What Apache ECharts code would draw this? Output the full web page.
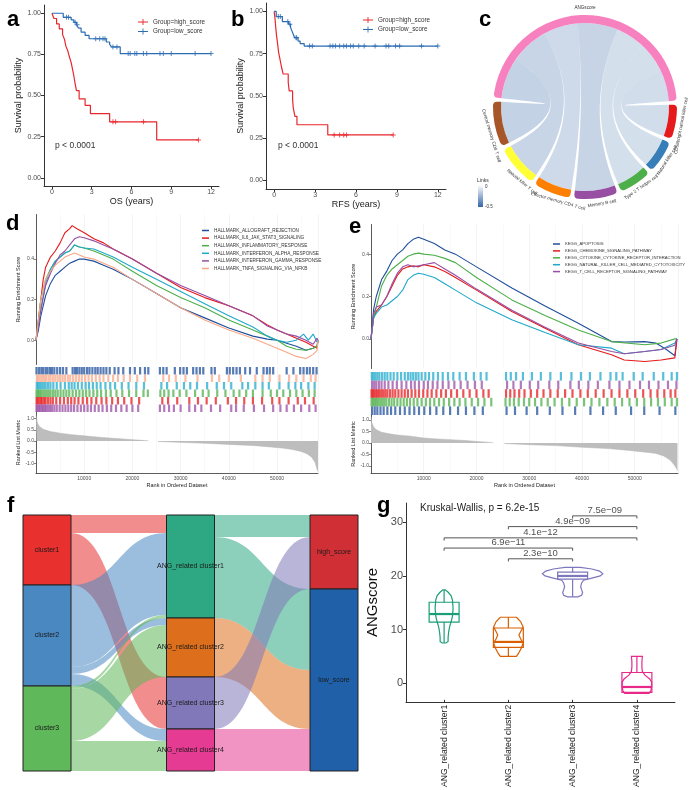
<!DOCTYPE html>
<html>
<head>
<meta charset="utf-8">
<script src="https://cdn.jsdelivr.net/npm/echarts@6.0.0/dist/echarts.min.js"></script>
<style>
html,body{margin:0;padding:0;background:#fff;}
#main{position:absolute;left:0;top:0;width:691px;height:790px;}
#chord{position:absolute;left:460px;top:0;width:231px;height:215px;}
</style>
</head>
<body>
<div id="main"></div>
<div id="chord"></div>
<script>
var font = 'Liberation Sans, Arial, sans-serif';
var red = '#e8262d', blue = '#2b6cb3';

// ---- a / b : Kaplan-Meier (years, survival) ----
var osHigh = [[0,1],[0.15,0.968],[0.35,0.935],[0.55,0.905],[0.8,0.87],[0.95,0.84],[1.05,0.8],[1.2,0.77],[1.3,0.74],[1.45,0.7],[1.55,0.66],[1.65,0.62],[1.75,0.57],[1.85,0.53],[2.05,0.48],[2.5,0.44],[2.9,0.39],[4.35,0.34],[7.9,0.23],[11.05,0.23]];
var osHighCensor = [[4.6,0.34],[4.8,0.34],[6.9,0.34],[11.05,0.23]];
var osLow = [[0,1],[0.85,0.975],[1.45,0.96],[1.65,0.945],[1.85,0.93],[2.0,0.91],[2.2,0.885],[2.5,0.865],[2.8,0.845],[4.1,0.825],[4.35,0.81],[4.5,0.795],[5.15,0.755],[12,0.755]];
var osLowCensor = [[1.1,0.975],[1.25,0.975],[1.75,0.945],[1.9,0.93],[3.3,0.845],[3.6,0.845],[3.85,0.845],[4.0,0.845],[4.6,0.795],[4.9,0.795],[5.75,0.755],[5.9,0.755],[6.25,0.755],[6.4,0.755],[6.9,0.755],[7.15,0.755],[8.15,0.755],[8.4,0.755],[9.0,0.755],[10.8,0.755],[12,0.755]];
var rfsHigh = [[0,1],[0.07,0.95],[0.12,0.9],[0.17,0.86],[0.25,0.81],[0.32,0.76],[0.42,0.72],[0.54,0.67],[0.66,0.63],[1.03,0.58],[1.1,0.53],[1.35,0.48],[1.4,0.43],[1.52,0.38],[1.67,0.33],[3.93,0.27],[8.73,0.27]];
var rfsHighCensor = [[4.4,0.27],[4.8,0.27],[5.1,0.27],[5.3,0.27],[8.73,0.27]];
var rfsLow = [[0,1],[0.15,0.97],[0.6,0.94],[1.05,0.925],[1.2,0.905],[1.3,0.885],[1.4,0.865],[1.5,0.845],[1.75,0.825],[1.9,0.81],[2.2,0.795],[12,0.795]];
var rfsLowCensor = [[0.3,0.97],[0.45,0.97],[1.0,0.94],[1.15,0.925],[1.6,0.845],[1.65,0.845],[2.6,0.795],[2.8,0.795],[4.1,0.795],[4.3,0.795],[4.5,0.795],[4.8,0.795],[5.1,0.795],[5.3,0.795],[5.6,0.795],[5.8,0.795],[6.2,0.795],[6.6,0.795],[7.4,0.795],[8.2,0.795],[8.4,0.795],[8.9,0.795],[9.2,0.795],[10.8,0.795],[12,0.795]];
var kmXTicks = [0,3,6,9,12];
var kmYTicks = [0,0.25,0.5,0.75,1];

// ---- d : GSEA hallmark (rank, running ES) ----
var dNames = ['HALLMARK_ALLOGRAFT_REJECTION','HALLMARK_IL6_JAK_STAT3_SIGNALING','HALLMARK_INFLAMMATORY_RESPONSE','HALLMARK_INTERFERON_ALPHA_RESPONSE','HALLMARK_INTERFERON_GAMMA_RESPONSE','HALLMARK_TNFA_SIGNALING_VIA_NFKB'];
var dColors = ['#1f4f9b','#e41a1c','#4daf4a','#1fa9c9','#984ea3','#f8a787'];
var dAllograft = [[0,0],[500,0.05],[1000,0.12],[2000,0.22],[3000,0.28],[4000,0.32],[5000,0.34],[6000,0.36],[7000,0.38],[8000,0.39],[9000,0.4],[10000,0.4],[12000,0.39],[14000,0.37],[16000,0.35],[20000,0.3],[25000,0.23],[30000,0.16],[35000,0.11],[40000,0.06],[45000,0.02],[48000,0.005],[50000,0],[52000,-0.015],[54000,-0.03],[56000,-0.05],[57500,-0.04],[58300,-0.03],[58500,0]];
var dIL6 = [[0,0],[500,0.1],[1000,0.2],[1500,0.3],[2000,0.36],[3000,0.41],[4000,0.44],[5000,0.48],[6000,0.53],[7000,0.55],[7500,0.565],[8500,0.55],[10000,0.53],[12000,0.5],[14000,0.48],[16000,0.45],[20000,0.4],[25000,0.33],[30000,0.26],[35000,0.21],[40000,0.17],[45000,0.12],[48000,0.075],[50000,0.05],[52000,0.03],[54000,0.01],[56000,-0.01],[57500,-0.03],[58300,-0.04],[58500,0]];
var dInflam = [[0,0],[500,0.1],[1000,0.2],[2000,0.3],[3000,0.35],[4000,0.39],[5000,0.41],[6000,0.43],[7000,0.44],[8000,0.47],[9000,0.46],[10000,0.455],[12000,0.44],[14000,0.42],[16000,0.4],[20000,0.34],[25000,0.27],[30000,0.21],[35000,0.16],[40000,0.1],[45000,0.05],[48000,0.02],[50000,0],[52000,-0.03],[54000,-0.045],[56000,-0.05],[57500,-0.04],[58300,-0.03],[58500,0]];
var dAlpha = [[0,0],[500,0.08],[1000,0.15],[2000,0.28],[3000,0.35],[4000,0.39],[5000,0.41],[6000,0.43],[7000,0.44],[8000,0.47],[9000,0.46],[10000,0.455],[12000,0.45],[14000,0.43],[16000,0.41],[20000,0.36],[25000,0.3],[30000,0.24],[35000,0.18],[40000,0.12],[45000,0.065],[48000,0.02],[50000,0],[52000,-0.01],[54000,0],[55500,0.03],[56500,0],[57500,0.03],[58300,-0.01],[58500,0]];
var dGamma = [[0,0],[500,0.07],[1000,0.15],[2000,0.27],[3000,0.33],[4000,0.38],[5000,0.42],[6000,0.44],[7000,0.47],[8000,0.5],[9000,0.51],[10000,0.505],[12000,0.49],[14000,0.47],[16000,0.45],[20000,0.4],[25000,0.33],[30000,0.27],[35000,0.22],[40000,0.17],[45000,0.12],[48000,0.07],[50000,0.05],[52000,0.03],[54000,0.02],[56000,0],[57500,-0.02],[58300,0.01],[58500,0]];
var dTnfa = [[0,0],[500,0.1],[1000,0.2],[2000,0.3],[3000,0.34],[4000,0.37],[5000,0.39],[6000,0.41],[7000,0.42],[8000,0.43],[9000,0.42],[10000,0.41],[12000,0.4],[14000,0.38],[16000,0.36],[20000,0.3],[25000,0.23],[30000,0.16],[35000,0.1],[40000,0.05],[45000,0.01],[48000,-0.02],[50000,-0.04],[52000,-0.06],[54000,-0.08],[56000,-0.09],[57500,-0.07],[58300,-0.05],[58500,0]];
var dCurves = [dAllograft, dIL6, dInflam, dAlpha, dGamma, dTnfa];

// hit positions, rows top to bottom: allograft, tnfa, alpha, inflammatory, il6, gamma
var dRugOrder = [0, 5, 3, 2, 1, 4];
var dRugAllograft = [100,600,1100,1500,2000,2400,2900,3300,3800,4400,5000,5600,6300,7600,8100,8500,9000,9500,10000,10600,11100,11700,12300,12800,13400,14000,14600,15300,16300,17100,18100,19500,20500,21600,22600,23300,25700,26400,27100,28800,29900,30600,31300,32600,33300,34000,34700,36400,37100,39600,40200,40900,41600,42300,43400,44400,45800,47200,47900,48500,49200,52000,53400,54800,55500,56200,56800,57500,58200];
var dRugTnfa = [200,500,900,1300,1700,2100,2600,3000,3500,4000,4500,5000,5500,6000,6600,7100,7700,8300,8900,9500,10200,10900,11600,12400,13200,14000,15000,16000,17000,18200,19500,21000,22600,26400,27600,29000,31000,33500,36500,38000,40000,42500,45500,47000,48500,50500,52500,54000,55500,57000,58000];
var dRugAlpha = [150,450,800,1200,1600,2000,2500,3000,3600,4300,5100,6000,6800,7400,8000,8700,9500,10300,11000,11800,12600,13400,14400,15400,16400,17800,19200,20800,22400,26000,27200,29200,30700,32000,33400,35500,37500,39000,40500,42800,44000,45500,47000,48300,50500,52400,53800,55000,56500,57800];
var dRugInflam = [100,400,700,1000,1400,1800,2200,2600,3000,3500,4000,4500,5100,5700,6300,6900,7600,8300,9000,9700,10400,11100,11900,12700,13500,14500,15500,16700,17900,19300,20800,22300,23200,25800,26600,27500,28500,29800,31200,33000,34600,35800,37600,39300,41000,42200,43600,45000,47000,48700,50000,51300,52700,54000,55300,56600,57800];
var dRugIL6 = [120,350,700,1000,1300,1700,2000,2500,3000,3500,4200,5000,5800,6600,7300,8000,8800,9700,10600,11500,12500,13600,14600,15800,17000,18300,19800,21400,26200,27400,29300,31800,33600,35400,37300,39800,41500,43200,45000,46900,49000,50500,52400,54300,55800,57600];
var dRugGamma = [100,300,600,900,1200,1500,1800,2100,2500,2900,3300,3800,4300,4900,5500,6100,6700,7300,7900,8600,9300,10000,10700,11400,12200,13000,13800,14700,15600,16600,17700,18800,20000,21200,25700,26600,27600,28600,30000,31800,33000,34300,36300,38200,40500,41500,43100,45200,47300,49200,50700,52000,53500,55000,56700,58000];
var dRugs = [dRugAllograft, dRugTnfa, dRugAlpha, dRugInflam, dRugIL6, dRugGamma];
var dRank = [[0,1.15],[100,1.0],[300,0.8],[700,0.65],[1500,0.52],[3000,0.42],[5000,0.35],[7500,0.28],[10000,0.23],[12500,0.18],[15000,0.14],[17500,0.1],[20000,0.06],[22000,0.03],[23300,0.01],[24200,'-'],[25300,-0.02],[28000,-0.04],[31000,-0.07],[34000,-0.09],[38000,-0.13],[41000,-0.16],[45000,-0.2],[48000,-0.25],[51000,-0.31],[53000,-0.37],[55000,-0.46],[56200,-0.56],[57200,-0.72],[57900,-0.95],[58300,-1.25],[58500,-1.35]];

// ---- e : GSEA KEGG ----
var eNames = ['KEGG_APOPTOSIS','KEGG_CHEMOKINE_SIGNALING_PATHWAY','KEGG_CYTOKINE_CYTOKINE_RECEPTOR_INTERACTION','KEGG_NATURAL_KILLER_CELL_MEDIATED_CYTOTOXICITY','KEGG_T_CELL_RECEPTOR_SIGNALING_PATHWAY'];
var eColors = ['#1f4f9b','#e41a1c','#4daf4a','#1fa9c9','#984ea3'];
var eApoptosis = [[0,0],[500,0.14],[1000,0.2],[2000,0.28],[3000,0.32],[4000,0.37],[5000,0.4],[6000,0.42],[7000,0.45],[8000,0.47],[9000,0.48],[10000,0.47],[12000,0.45],[14000,0.42],[16000,0.4],[20000,0.34],[26700,0.24],[33000,0.155],[39300,0.074],[45600,-0.013],[48000,-0.015],[51900,-0.013],[54000,-0.02],[56000,-0.05],[57600,-0.08],[58000,0]];
var eChemokine = [[0,0],[500,0.1],[1000,0.13],[2000,0.16],[3000,0.2],[4000,0.25],[5000,0.3],[6000,0.33],[7000,0.34],[8000,0.345],[9000,0.34],[10000,0.35],[12000,0.34],[14000,0.318],[16000,0.29],[20000,0.23],[26700,0.129],[33000,0.05],[39300,-0.028],[45600,-0.075],[48000,-0.1],[51900,-0.107],[55000,-0.1],[57600,-0.09],[58000,0]];
var eCytokine = [[0,0],[500,0.1],[1000,0.15],[2000,0.25],[3000,0.3],[4000,0.33],[5000,0.35],[6000,0.37],[7000,0.39],[8000,0.4],[9000,0.405],[10000,0.4],[12000,0.395],[14000,0.38],[16000,0.36],[20000,0.29],[26700,0.184],[33000,0.11],[39300,0.042],[45600,-0.013],[51900,-0.028],[55000,-0.02],[57600,0],[58000,0]];
var eNK = [[0,0],[500,0.1],[1000,0.12],[2000,0.15],[3000,0.16],[4000,0.18],[5000,0.2],[6000,0.23],[7000,0.28],[8000,0.3],[9000,0.31],[10000,0.305],[12000,0.29],[14000,0.26],[16000,0.23],[20000,0.17],[26700,0.09],[33000,0.03],[39300,-0.028],[45600,-0.044],[48000,-0.07],[51900,-0.06],[55000,-0.05],[57600,-0.02],[58000,0]];
var eTCR = [[0,0],[500,0.12],[1000,0.15],[2000,0.16],[3000,0.2],[4000,0.26],[5000,0.31],[6000,0.34],[7000,0.35],[8000,0.34],[9000,0.345],[10000,0.35],[12000,0.36],[14000,0.33],[16000,0.3],[20000,0.235],[26700,0.135],[33000,0.055],[39300,-0.02],[45600,-0.06],[48000,-0.07],[51900,-0.06],[55000,-0.05],[57600,-0.03],[58000,0]];
var eCurves = [eApoptosis, eChemokine, eCytokine, eNK, eTCR];

// rows top to bottom: nk, tcr, chemokine, cytokine, apoptosis
var eRugOrder = [3, 4, 1, 2, 0];
var eRugNK = [150,450,800,1200,1600,2100,2600,3100,3700,4300,5000,5700,6400,7000,7500,8000,8500,9000,9600,10300,11000,11800,12700,13600,14600,15600,16800,18000,19500,20800,21900,25600,26500,27500,28800,30500,32200,34000,36000,38000,39800,41500,43500,45400,46500,47700,49800,51500,53600,55400,57000,58000];
var eRugTCR = [200,600,1000,1500,2000,2600,3300,4100,4900,5800,6700,7600,8300,9100,10000,10800,11700,12600,13600,14700,15800,17000,18300,19700,21000,25800,27000,28400,30100,31700,33800,35500,37800,39400,41200,43000,45200,47100,49000,51000,52700,54500,56300,57900];
var eRugChemokine = [100,300,600,900,1200,1500,1900,2300,2700,3100,3600,4100,4600,5200,5800,6400,7000,7700,8400,9100,9900,10700,11500,12400,13300,14200,15200,16300,17500,18700,20000,21300,22300,25600,26400,27200,28100,29100,30300,31500,32700,34000,35400,36800,38200,39700,41100,42600,44100,45600,47100,48600,50100,51600,53000,54300,55600,56800,57700];
var eRugCytokine = [100,400,700,1000,1300,1700,2100,2500,2900,3400,3900,4400,5000,5600,6200,6800,7400,8100,8800,9600,10400,11200,12000,12900,13800,14800,15800,16800,17900,19100,20300,21500,22800,25500,26300,27100,28000,29000,30000,31100,32300,33500,34800,36200,37600,39000,40400,41800,43300,44800,46200,47600,49000,50400,51800,53100,54400,55700,57000,58000];
var eRugApoptosis = [200,700,1200,1800,2400,3100,3800,4600,5500,6400,7300,8200,9100,10100,11200,12400,13700,15000,16500,18000,19600,21200,25700,27300,29500,31500,33900,36300,38700,41600,44000,46400,49300,51800,54700,57700];
var eRugs = [eRugNK, eRugTCR, eRugChemokine, eRugCytokine, eRugApoptosis];
var eRank = [[0,1.15],[150,0.9],[500,0.7],[1000,0.58],[2000,0.47],[3500,0.4],[5000,0.35],[7500,0.3],[10000,0.22],[12500,0.18],[15000,0.15],[18000,0.11],[20000,0.07],[22500,0.03],[23200,0.01],[24200,'-'],[25300,-0.02],[30000,-0.07],[35000,-0.11],[40000,-0.18],[45000,-0.24],[49000,-0.32],[53000,-0.42],[54000,-0.45],[55500,-0.56],[56700,-0.74],[57500,-0.95],[57900,-1.1],[58100,-1.2]];
var rankTicks = [10000,20000,30000,40000,50000];

// ---- f : sankey ----
var sankeyNodes = ['cluster1','cluster2','cluster3','ANG_related cluster1','ANG_related cluster2','ANG_related cluster3','ANG_related cluster4','high_score','low_score'];
var sankeyColors = ['#e8302f','#4a88c2','#5fb85a','#2ea882','#dd6f1c','#8078b8','#e53b92','#d02f36','#1f60a8'];
var sankeyFlows = [
    ['cluster1','ANG_related cluster1',18],
    ['cluster1','ANG_related cluster3',52],
    ['cluster2','ANG_related cluster1',82],
    ['cluster2','ANG_related cluster2',7],
    ['cluster2','ANG_related cluster4',12],
    ['cluster3','ANG_related cluster1',3],
    ['cluster3','ANG_related cluster2',52],
    ['cluster3','ANG_related cluster4',30],
    ['ANG_related cluster1','high_score',22],
    ['ANG_related cluster1','low_score',81],
    ['ANG_related cluster2','low_score',59],
    ['ANG_related cluster3','high_score',52],
    ['ANG_related cluster4','low_score',42]
];

// ---- g : ANGscore by cluster ----
var gGroups = ['ANG_related cluster1','ANG_related cluster2','ANG_related cluster3','ANG_related cluster4'];
var gColors = ['#1b9e77','#d95f02','#7d77bd','#e7298a'];
// [min, Q1, median, Q3, max]
var gBox = [[7.5,11.4,12.9,15.1,17.4],[5.0,6.7,7.7,10.3,12.3],[16.1,19.4,20.0,20.7,21.6],[-1.9,-1.7,-0.7,2.0,5.0]];
// violin outline: [ANGscore, half width in category units]
var gViolin = [
    [[17.4,0.02],[17,0.06],[16.3,0.11],[15.5,0.13],[14,0.14],[12.5,0.13],[11.5,0.11],[10.5,0.085],[9.5,0.07],[8.5,0.062],[7.8,0.062],[7.5,0.03]],
    [[12.3,0.125],[11.5,0.19],[10.5,0.23],[9.6,0.19],[9,0.165],[8.3,0.19],[7.5,0.23],[6.5,0.2],[5.5,0.155],[5,0.125]],
    [[21.6,0.12],[21.3,0.3],[20.9,0.42],[20.4,0.47],[20.0,0.43],[19.6,0.3],[19.2,0.17],[18.7,0.14],[18.0,0.125],[17.4,0.14],[16.9,0.155],[16.4,0.14],[16.1,0.08]],
    [[5.0,0.085],[4.0,0.078],[3.0,0.078],[2.2,0.085],[1.5,0.125],[0.8,0.2],[0.2,0.23],[-0.6,0.23],[-1.3,0.22],[-1.9,0.19]]
];
// [from group, to group, bracket height, label]
var gPairs = [[2,3,31.2,'7.5e\u221209'],[1,3,29.2,'4.9e\u221209'],[0,3,27.1,'4.1e\u221212'],[0,2,25.2,'6.9e\u221211'],[1,2,23.2,'2.3e\u221210']];
var gYTicks = [0,10,20,30];

// ---- c : chord ----
var chordNodes = ['ANGscore','CD56bright natural killer cell','Natural killer cell','Type 2 T helper cell','Memory B cell','Effector memory CD4 T cell','Natural killer T cell','Central memory CD4 T cell'];
var chordColors = ['#f781bf','#e41a1c','#377eb8','#4daf4a','#984ea3','#ff7f00','#ffff33','#a65628'];
var chordCorr = [-0.22,-0.21,-0.21,-0.28,-0.24,-0.27,-0.29];
// label placement around the ring: mid angle (deg) and text turn (deg)
var chordLabelAngle = [90, -11, -33, -55, -80, -106, -130, -163];
var chordLabelRotate = [0, 79, 57, 35, 10, -16, -40, -73];


// axis helpers
function kmXAxis(grid, name) {
    return {type:'value', gridIndex:grid, min:-0.6, max:12.6, name:name, nameLocation:'middle', nameGap:11,
        nameTextStyle:{fontSize:9, color:'#222', fontFamily:font},
        axisLine:{onZero:false, lineStyle:{color:'#333', width:1}},
        axisTick:{customValues:kmXTicks, length:3, lineStyle:{color:'#333'}},
        axisLabel:{customValues:kmXTicks, fontSize:7, color:'#4d4d4d', margin:3},
        splitLine:{show:false}};
}
function kmYAxis(grid, gap) {
    return {type:'value', gridIndex:grid, min:-0.05, max:1.05, name:'Survival probability', nameLocation:'middle', nameGap:gap,
        nameTextStyle:{fontSize:9, color:'#222', fontFamily:font},
        axisLine:{show:true, onZero:false, lineStyle:{color:'#333', width:1}},
        axisTick:{show:true, customValues:kmYTicks, length:3, lineStyle:{color:'#333'}},
        axisLabel:{customValues:kmYTicks, fontSize:7, color:'#4d4d4d', margin:3, formatter:function (v) { return v.toFixed(2); }},
        splitLine:{show:false}};
}
function gseaX(grid, max, showLabels) {
    return {type:'value', gridIndex:grid, min:0, max:max, interval:10000,
        name: showLabels ? 'Rank in Ordered Dataset' : '', nameLocation:'middle', nameGap:9,
        nameTextStyle:{fontSize:5.5, color:'#222'},
        axisLine:{show:showLabels, onZero:false, lineStyle:{color:'#333', width:0.8}},
        axisTick:{show:false},
        axisLabel:{show:showLabels, customValues:rankTicks, fontSize:5, color:'#4d4d4d', margin:3, formatter:function (v) { return String(v); }},
        splitLine:{show:true, lineStyle:{color:'#ebebeb', width:0.6}},
        minorTick:{show:false, splitNumber:2},
        minorSplitLine:{show:true, lineStyle:{color:'#f3f3f3', width:0.5}}};
}
function gseaY(grid, min, max, ticks, name, show) {
    return {type:'value', gridIndex:grid, min:min, max:max, show:show,
        name:name, nameLocation:'middle', nameGap:15, nameTextStyle:{fontSize:5.5, color:'#222'},
        axisLine:{show:true, onZero:false, lineStyle:{color:'#333', width:0.8}},
        axisTick:{show:true, customValues:ticks, length:2, lineStyle:{color:'#333', width:0.6}},
        axisLabel:{customValues:ticks, fontSize:5, color:'#4d4d4d', margin:2, formatter:function (v) { return v.toFixed(1); }},
        splitLine:{show:false}};
}

var plusSymbol = 'path://M4,0H6V4H10V6H6V10H4V6H0V4H4Z';
var kmIcon = 'path://M0,4L16,4L16,5.4L0,5.4Z M7.3,0L8.7,0L8.7,9.4L7.3,9.4Z';

var series = [];
function kmSeries(axis, high, highC, low, lowC) {
    [[high, highC, red, 'Group=high_score'], [low, lowC, blue, 'Group=low_score']].forEach(function (s) {
        series.push({name:s[3], type:'line', step:'end', data:s[0], symbol:'none', xAxisIndex:axis, yAxisIndex:axis,
            itemStyle:{color:s[2]}, lineStyle:{color:s[2], width:1.2}, silent:true});
        series.push({name:s[3], type:'scatter', data:s[1], symbol:plusSymbol, symbolSize:5, xAxisIndex:axis, yAxisIndex:axis,
            itemStyle:{color:s[2]}, silent:true});
    });
}
kmSeries(0, osHigh, osHighCensor, osLow, osLowCensor);
kmSeries(1, rfsHigh, rfsHighCensor, rfsLow, rfsLowCensor);

function gseaSeries(base, names, colors, curves, rugs, rugOrder, rank, rowH) {
    curves.forEach(function (c, i) {
        series.push({name:names[i], type:'line', data:c, symbol:'none', xAxisIndex:base, yAxisIndex:base,
            itemStyle:{color:colors[i]}, lineStyle:{color:colors[i], width:1.1}, silent:true});
    });
    var n = rugs.length;
    rugs.forEach(function (r, row) {
        var ci = rugOrder[row];
        series.push({name:'rug' + base + '_' + row, type:'scatter', xAxisIndex:base + 1, yAxisIndex:base + 1,
            data:r.map(function (p) { return [p, n - row - 0.5]; }),
            symbol:'rect', symbolSize:[2.2, rowH], itemStyle:{color:colors[ci], opacity:0.75}, silent:true});
    });
    series.push({name:'rank' + base, type:'line', data:rank, symbol:'none', xAxisIndex:base + 2, yAxisIndex:base + 2,
        lineStyle:{color:'#b5b5b5', width:0.5}, itemStyle:{color:'#bdbdbd'}, areaStyle:{color:'#bdbdbd', opacity:1}, silent:true});
}
gseaSeries(2, dNames, dColors, dCurves, dRugs, dRugOrder, dRank, 7.5);
gseaSeries(5, eNames, eColors, eCurves, eRugs, eRugOrder, eRank, 8.6);

// sankey
series.push({
    type:'sankey', left:23, top:515, width:335, height:256, nodeWidth:48, nodeGap:0, layoutIterations:0, draggable:false,
    data:sankeyNodes.map(function (n, i) { return {name:n, itemStyle:{color:sankeyColors[i]}}; }),
    links:sankeyFlows.map(function (f) { return {source:f[0], target:f[1], value:f[2]}; }),
    label:{position:'inside', fontSize:7, color:'#1a1a1a', fontFamily:font},
    itemStyle:{borderColor:'#222', borderWidth:1},
    lineStyle:{color:'source', opacity:0.55, curveness:0.5},
    emphasis:{disabled:true}
});

// g : violins with box plots (no whisker caps), brackets
series.push({type:'custom', xAxisIndex:9, yAxisIndex:9, silent:true, clip:false,
    data:gGroups.map(function (g, i) { return [i, gBox[i][2]]; }),
    renderItem:function (params, api) {
        var i = params.dataIndex, prof = gViolin[i], b = gBox[i], c = gColors[i], pts = [];
        prof.forEach(function (p) { pts.push(api.coord([i + p[1], p[0]])); });
        prof.slice().reverse().forEach(function (p) { pts.push(api.coord([i - p[1], p[0]])); });
        var hw = 0.233;
        var tl = api.coord([i - hw, b[3]]), br = api.coord([i + hw, b[1]]);
        var mL = api.coord([i - hw, b[2]]), mR = api.coord([i + hw, b[2]]);
        var top = api.coord([i, b[4]]), q3 = api.coord([i, b[3]]), q1 = api.coord([i, b[1]]), bot = api.coord([i, b[0]]);
        var st = {fill:'none', stroke:c, lineWidth:1.2};
        return {type:'group', children:[
            {type:'polygon', shape:{points:pts}, style:st},
            {type:'rect', shape:{x:tl[0], y:tl[1], width:br[0] - tl[0], height:br[1] - tl[1]}, style:st},
            {type:'line', shape:{x1:mL[0], y1:mL[1], x2:mR[0], y2:mR[1]}, style:{stroke:c, lineWidth:2.2}},
            {type:'line', shape:{x1:top[0], y1:top[1], x2:q3[0], y2:q3[1]}, style:st},
            {type:'line', shape:{x1:q1[0], y1:q1[1], x2:bot[0], y2:bot[1]}, style:st}
        ]};
    }});
gPairs.forEach(function (p) {
    series.push({type:'line', xAxisIndex:9, yAxisIndex:9, symbol:'none', silent:true,
        data:[[p[0], p[2] - 0.5], [p[0], p[2]], [p[1], p[2]], [p[1], p[2] - 0.5]],
        lineStyle:{color:'#555', width:1}});
    series.push({type:'scatter', xAxisIndex:9, yAxisIndex:9, symbolSize:1, silent:true,
        itemStyle:{color:'rgba(0,0,0,0)'},
        data:[{name:p[3], value:[(p[0] + p[1]) / 2, p[2]]}],
        label:{show:true, position:'top', distance:0, formatter:'{b}', fontSize:9.5, color:'#222', fontFamily:font}});
});

function letter(t, x, y) {
    return {text:t, left:x, top:y, textStyle:{fontSize:22, fontWeight:'bold', color:'#000', fontFamily:font}};
}

var option = {
    animation:false,
    textStyle:{fontFamily:font},
    title:[letter('a',2,4), letter('b',226,4), letter('c',474,4), letter('d',1,208), letter('e',344,211), letter('f',2,490), letter('g',372,490)],
    legend:[
        {data:['Group=high_score','Group=low_score'], orient:'vertical', left:138, top:19, padding:0, icon:kmIcon, itemWidth:10, itemHeight:6, itemGap:3.5, textStyle:{fontSize:6.3, color:'#333'}, selectedMode:false},
        {data:['Group=high_score','Group=low_score'], orient:'vertical', left:363, top:17, padding:0, icon:kmIcon, itemWidth:10, itemHeight:6, itemGap:3.5, textStyle:{fontSize:6.3, color:'#333'}, selectedMode:false},
        {data:dNames, orient:'vertical', left:202, top:228, padding:0, icon:'rect', itemWidth:7, itemHeight:1.5, itemGap:2.6, textStyle:{fontSize:4.7, color:'#333'}, selectedMode:false},
        {data:eNames, orient:'vertical', left:553, top:242, padding:0, icon:'rect', itemWidth:7, itemHeight:1.5, itemGap:2.9, textStyle:{fontSize:4.2, color:'#333'}, selectedMode:false}
    ],
    grid:[
        {left:44, top:5, width:175, height:181},
        {left:266, top:3, width:180, height:186},
        {left:36, top:214.5, width:282, height:150},
        {left:36, top:367, width:282, height:45},
        {left:36, top:412, width:282, height:61},
        {left:371, top:224.5, width:307, height:144},
        {left:371, top:372, width:307, height:43},
        {left:371, top:415, width:307, height:58},
        {left:412, top:503, width:257, height:199},
        {left:406, top:503, width:269, height:199}
    ],
    xAxis:[
        kmXAxis(0, 'OS (years)'),
        kmXAxis(1, 'RFS (years)'),
        gseaX(2, 58500, false), gseaX(3, 58500, false), gseaX(4, 58500, true),
        gseaX(5, 58200, false), gseaX(6, 58200, false), gseaX(7, 58200, true),
        {type:'category', gridIndex:8, data:gGroups,
            axisLine:{show:false, onZero:false}, axisTick:{show:true, alignWithLabel:true, length:3, lineStyle:{color:'#333'}},
            axisLabel:{rotate:90, fontSize:8.6, color:'#1a1a1a', margin:5}},
        {type:'value', gridIndex:9, min:-0.593, max:3.593, axisLine:{show:true, onZero:false, lineStyle:{color:'#333'}},
            axisTick:{show:false}, axisLabel:{show:false}, splitLine:{show:false}}
    ],
    yAxis:[
        kmYAxis(0, 21),
        kmYAxis(1, 20),
        gseaY(2, -0.12, 0.62, [0,0.2,0.4], 'Running Enrichment Score', true),
        gseaY(3, 0, 6, [], '', false),
        gseaY(4, -1.42, 1.29, [-1,-0.5,0,0.5,1], 'Ranked List Metric', true),
        gseaY(5, -0.14, 0.54, [0,0.2,0.4], 'Running Enrichment Score', true),
        gseaY(6, 0, 5, [], '', false),
        gseaY(7, -1.30, 1.22, [-1,-0.5,0,0.5,1], 'Ranked List Metric', true),
        {type:'value', gridIndex:8, min:-3.5, max:33.6, show:false, splitLine:{show:false}},
        {type:'value', gridIndex:9, min:-3.5, max:33.6, name:'ANGscore', nameLocation:'middle', nameGap:26,
            nameTextStyle:{fontSize:15, color:'#111'},
            axisLine:{show:true, onZero:false, lineStyle:{color:'#333'}},
            axisTick:{show:true, customValues:gYTicks, length:3, lineStyle:{color:'#333'}},
            axisLabel:{customValues:gYTicks, fontSize:11, color:'#4d4d4d', margin:3},
            splitLine:{show:false}}
    ],
    graphic:[
        {type:'text', left:55, top:141, style:{text:'p < 0.0001', fontSize:8.5, fill:'#333', fontFamily:font}},
        {type:'text', left:278, top:141, style:{text:'p < 0.0001', fontSize:8.5, fill:'#333', fontFamily:font}},
        {type:'text', left:420, top:503, style:{text:'Kruskal-Wallis, p = 6.2e-15', fontSize:10, fill:'#222', fontFamily:font}}
    ],
    series:series
};

var myChart = echarts.init(document.getElementById('main'));
myChart.setOption(option);

// c : chord diagram in its own instance
function linkColor(r) {
    return echarts.color.lerp(Math.min(1, -r / 0.5), ['#ffffff', '#3566a8']);
}
// links listed from the left-most cell type so ribbons do not cross
var chordLinks = chordNodes.slice(1).map(function (n) {
    return {source:'ANGscore', target:n, value:Math.abs(chordCorr[chordNodes.indexOf(n) - 1])};
}).reverse();
var chordBase = {
    type:'chord', center:[125, 107], radius:[84, 92], startAngle:174, clockwise:true, padAngle:2.5, silent:true, links:chordLinks
};
// sector names written along the ring
var chordLabels = chordNodes.map(function (n, i) {
    var a = chordLabelAngle[i] * Math.PI / 180, r = i === 0 ? 99 : 98;
    return {type:'text', x:125 + r * Math.cos(a), y:107 - r * Math.sin(a), rotation:chordLabelRotate[i] * Math.PI / 180,
        style:{text:n, fontSize:4.6, fill:'#333', align:'center', verticalAlign:'middle', fontFamily:font}};
});
try {
    var chordChart = echarts.init(document.getElementById('chord'));
    chordChart.setOption({
        animation:false,
        textStyle:{fontFamily:font},
        graphic:[
            {type:'text', left:17, top:178, style:{text:'Links', fontSize:5, fill:'#333'}},
            {type:'rect', left:18, top:185, shape:{width:5, height:22},
                style:{fill:new echarts.graphic.LinearGradient(0, 0, 0, 1, [{offset:0, color:'#ffffff'}, {offset:1, color:'#3566a8'}])}},
            {type:'text', left:25, top:184, style:{text:'0', fontSize:4.5, fill:'#333'}},
            {type:'text', left:25, top:204, style:{text:'-0.5', fontSize:4.5, fill:'#333'}}
        ].concat(chordLabels),
        series:[
            // ribbons: hidden nodes carry the link colour, ribbons take the target colour
            echarts.util.extend({
                data:chordNodes.map(function (n, i) {
                    return {name:n, itemStyle:{color: i === 0 ? '#c3cbe2' : linkColor(chordCorr[i - 1]), opacity:0}};
                }),
                lineStyle:{color:'target', opacity:0.5},
                label:{show:false}
            }, chordBase),
            // ring with coloured sectors
            echarts.util.extend({
                data:chordNodes.map(function (n, i) { return {name:n, itemStyle:{color:chordColors[i]}}; }),
                lineStyle:{opacity:0},
                itemStyle:{borderWidth:0},
                label:{show:false}
            }, chordBase)
        ]
    });
} catch (err) {
    console.log(err);
}
</script>
</body>
</html>
